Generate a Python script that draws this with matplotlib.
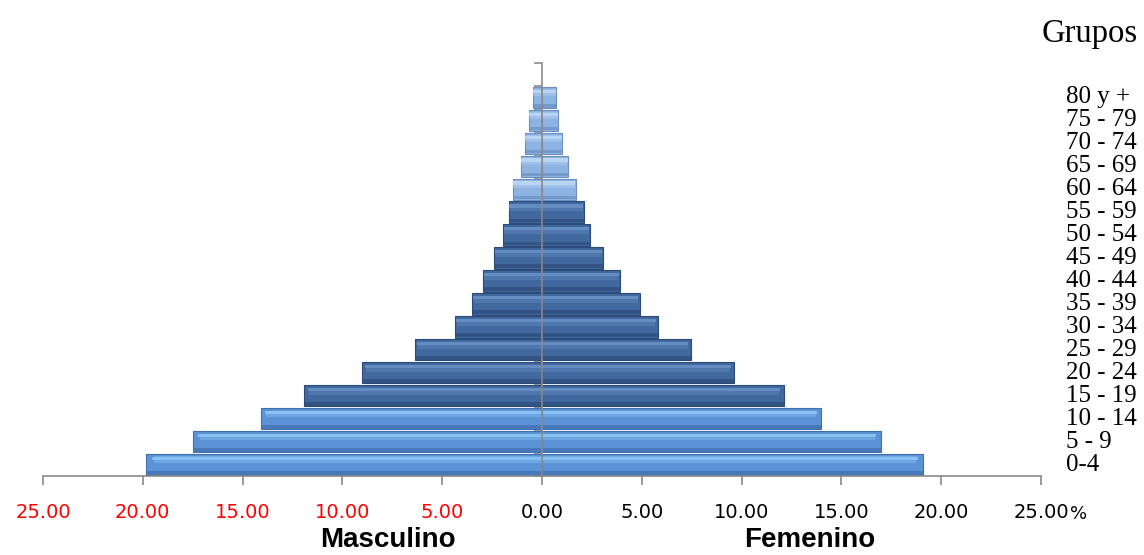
import numpy as np
import matplotlib.pyplot as plt

# grupos de edad (de abajo hacia arriba)
grupos = ['0-4', '5 - 9', '10 - 14', '15 - 19', '20 - 24', '25 - 29', '30 - 34',
          '35 - 39', '40 - 44', '45 - 49', '50 - 54', '55 - 59', '60 - 64',
          '65 - 69', '70 - 74', '75 - 79', '80 y +']
masculino = [19.85, 17.5, 14.1, 11.9, 9.0, 6.35, 4.35, 3.5, 2.95, 2.4, 1.95,
             1.67, 1.47, 1.05, 0.85, 0.66, 0.47]
femenino = [19.1, 17.0, 14.0, 12.1, 9.6, 7.45, 5.8, 4.9, 3.9, 3.05, 2.4,
            2.1, 1.7, 1.3, 1.0, 0.8, 0.7]
ticks = [-25, -20, -15, -10, -5, 0, 5, 10, 15, 20, 25]

# colores por tramo: (cuerpo, brillo, sombra)
claro = ('#5b93d6', '#8fcaf6', '#3f6fae')
oscuro = ('#42699f', '#6a93c8', '#2c4a78')
palido = ('#8db3e2', '#c0dbf5', '#6a8fc0')
colores = [claro] * 3 + [oscuro] * 9 + [palido] * 5

fig = plt.figure(figsize=(11.44, 5.55), dpi=100)
ax = fig.add_axes([43 / 1144, 79 / 555, 998 / 1144, 413 / 555])

y = np.arange(len(grupos))
cuerpo = [c[0] for c in colores]
brillo = [c[1] for c in colores]
sombra = [c[2] for c in colores]
m = -np.array(masculino)
f = np.array(femenino)

for vals in (m, f):
    ax.barh(y, vals, height=0.93, color=cuerpo, edgecolor=sombra, linewidth=0.8, zorder=2)
    # bisel: brillo arriba (suave) y sombra abajo
    ax.barh(y + 0.2, vals * 0.98, height=0.3, color=brillo, linewidth=0, alpha=0.35, zorder=3)
    ax.barh(y + 0.27, vals * 0.985, height=0.14, color=brillo, linewidth=0, alpha=0.8, zorder=3)
    ax.barh(y - 0.36, vals, height=0.16, color=sombra, linewidth=0, alpha=0.7, zorder=3)

ax.set_xlim(-25, 25)
ax.set_ylim(-0.5, 17.5)

for s in ['top', 'right']:
    ax.spines[s].set_visible(False)
ax.spines['left'].set_position(('data', 0))
for s in ['left', 'bottom']:
    ax.spines[s].set_color('#8a8a8a')
    ax.spines[s].set_linewidth(1.2)
    ax.spines[s].set_zorder(4)

ax.set_yticks(np.arange(-0.5, 18, 1))
ax.set_yticklabels([])
ax.tick_params(axis='y', direction='out', length=6, width=1.2, color='#8a8a8a')

ax.set_xticks(ticks)
ax.set_xticklabels(['%.2f' % abs(t) for t in ticks], fontsize=14,
                   fontfamily='DejaVu Sans')
ax.tick_params(axis='x', direction='out', length=6.5, width=1.2,
               color='#8a8a8a', pad=13)
for t, lab in zip(ticks, ax.get_xticklabels()):
    lab.set_color('red' if t < 0 else 'black')

for i, g in enumerate(grupos):
    ax.text(26.25, i, g, ha='left', va='center', fontsize=18,
            fontfamily='Liberation Serif', clip_on=False)

fig.text(1042 / 1144, (555 - 42) / 555, 'Grupos', ha='left', va='baseline',
         fontsize=23.5, fontfamily='Liberation Serif')
fig.text(1070 / 1144, (555 - 514) / 555, '%', ha='left', va='center',
         fontsize=13, fontfamily='DejaVu Sans')
fig.text(387.5 / 1144, 0.014, 'Masculino', ha='center', va='baseline',
         fontsize=20, fontweight='bold', fontfamily='Liberation Sans')
fig.text(809.5 / 1144, 0.014, 'Femenino', ha='center', va='baseline',
         fontsize=20, fontweight='bold', fontfamily='Liberation Sans')

fig.savefig('out.png', dpi=100)
